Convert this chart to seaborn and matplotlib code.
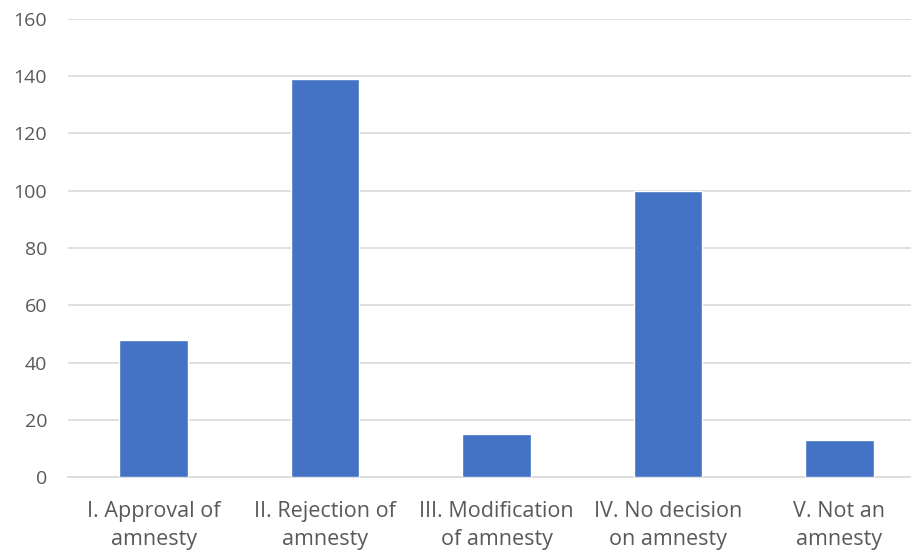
import matplotlib
matplotlib.use("Agg")
import matplotlib.pyplot as plt
import seaborn as sns
import pandas as pd

categories = [
    "I. Approval of\namnesty",
    "II. Rejection of\namnesty",
    "III. Modification\nof amnesty",
    "IV. No decision\non amnesty",
    "V. Not an\namnesty",
]
counts = [48, 139, 15, 100, 13]
y_ticks = [0, 20, 40, 60, 80, 100, 120, 140, 160]

df = pd.DataFrame({"category": categories, "count": counts})

sns.set_theme(style="white")
plt.rcParams["font.family"] = ["Open Sans", "DejaVu Sans"]

fig = plt.figure(figsize=(9.12, 5.52), dpi=100)
ax = fig.add_axes([68 / 912, 75 / 552, 857 / 912, 458 / 552])

sns.barplot(data=df, x="category", y="count", color="#4472C4",
            saturation=1, width=0.4, ax=ax, zorder=3)

ax.set_ylim(0, 160)
ax.set_xlim(-0.5, len(categories) - 0.5)
ax.set_yticks(y_ticks)
ax.yaxis.grid(True, color="#D9D9D9", linewidth=1.2, zorder=0)
ax.set_axisbelow(True)

for side in ["top", "right", "left"]:
    ax.spines[side].set_visible(False)
ax.spines["bottom"].set_color("#D9D9D9")
ax.spines["bottom"].set_linewidth(1.2)

ax.set_xlabel("")
ax.set_ylabel("")
ax.tick_params(axis="y", length=0, pad=15, labelsize=14, labelcolor="#595959")
ax.tick_params(axis="x", length=0, pad=17, labelsize=15.5, labelcolor="#595959")
for lbl in ax.get_xticklabels():
    lbl.set_linespacing(1.45)
    lbl.set_horizontalalignment("center")

fig.savefig("out.png", dpi=100)
